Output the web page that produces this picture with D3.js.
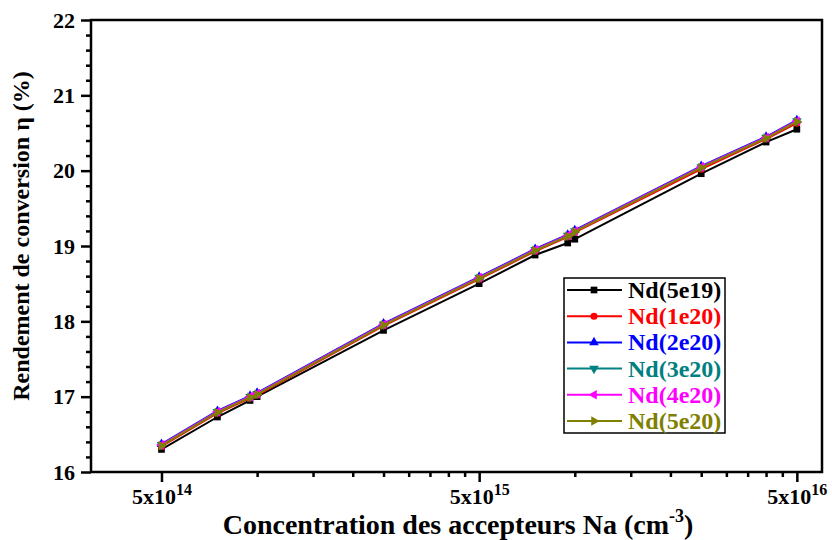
<!doctype html>
<html lang="fr">
<head>
  <meta charset="utf-8">
  <title>Rendement de conversion</title>
  <style>
body { margin: 0; background: #fff; }
.axis path { display: none; }
.axis line { stroke: #000; stroke-width: 2.5; }
  </style>
</head>
<body>
  <script src="https://d3js.org/d3.v7.min.js"></script>
  <script>
// acceptor concentration Na (cm-3)
var na = [5e14, 7.5e14, 9.5e14, 1e15, 2.5e15, 5e15, 7.5e15, 9.5e15, 1e16, 2.5e16, 4e16, 5e16];

var names = ["Nd(5e19)", "Nd(1e20)", "Nd(2e20)", "Nd(3e20)", "Nd(4e20)", "Nd(5e20)"];
var nd5e19 = [16.30, 16.73, 16.95, 17.00, 17.88, 18.50, 18.88, 19.04, 19.09, 19.96, 20.38, 20.55];
var nd1e20 = [16.34, 16.78, 16.98, 17.02, 17.94, 18.56, 18.93, 19.12, 19.18, 20.02, 20.42, 20.63];
var nd2e20 = [16.37, 16.81, 17.01, 17.05, 17.97, 18.59, 18.96, 19.15, 19.21, 20.06, 20.45, 20.67];
var nd3e20 = [16.36, 16.80, 17.00, 17.04, 17.96, 18.58, 18.95, 19.14, 19.20, 20.05, 20.44, 20.66];
var nd4e20 = [16.36, 16.80, 17.00, 17.04, 17.96, 18.58, 18.95, 19.14, 19.20, 20.05, 20.44, 20.66];
var nd5e20 = [16.35, 16.79, 16.99, 17.03, 17.95, 18.57, 18.94, 19.13, 19.19, 20.04, 20.43, 20.65];

var xMajor = [5e14, 5e15, 5e16];
var yMajor = [16, 17, 18, 19, 20, 21, 22];

var series = [nd5e19, nd1e20, nd2e20, nd3e20, nd4e20, nd5e20];
var colors = ["#000000", "#ff0000", "#0000ff", "#008080", "#ff00ff", "#808000"];
var symbols = [d3.symbolSquare, d3.symbolCircle, d3.symbolTriangle, "down", "left", "right"];

var FONT = '"Liberation Serif", "Times New Roman", Times, serif';

var margin = {top: 20, right: 10, bottom: 68, left: 91},
    width = 832 - margin.left - margin.right,
    height = 540 - margin.top - margin.bottom;

var x = d3.scaleLog().domain([3e14, 6e16]).range([0, width]);
var y = d3.scaleLinear().domain([16, 22]).range([height, 0]);

var svg = d3.select("body").append("svg")
    .attr("width", 832)
    .attr("height", 540)
    .style("font-family", FONT)
  .append("g")
    .attr("transform", "translate(" + margin.left + "," + margin.top + ")");

// minor ticks: 5e14 * k, k = 2..9, between the majors
var xMinor = [];
[5e14, 5e15].forEach(function(b) {
  for (var k = 2; k <= 9; k++) xMinor.push(b * k);
});
var yMinor = d3.range(16, 22.001, 0.2).filter(function(v) {
  return Math.abs(v - Math.round(v)) > 0.01;
});

function txt(sel, size) {
  return sel.style("font-family", FONT).style("font-weight", "bold").attr("font-size", size);
}

svg.append("g").attr("class", "axis")
    .attr("transform", "translate(0," + height + ")")
    .call(d3.axisBottom(x).tickValues(xMinor).tickSize(5).tickFormat(""));
var xa = svg.append("g").attr("class", "axis")
    .attr("transform", "translate(0," + height + ")")
    .call(d3.axisBottom(x).tickValues(xMajor).tickSize(10).tickPadding(6).tickFormat(""));
xa.selectAll(".tick text").each(function(d) {
  var e = Math.round(Math.log10(d / 5));
  var t = txt(d3.select(this), 22).attr("fill", "#000");
  t.append("tspan").text("5x10");
  t.append("tspan").attr("dy", -9).attr("font-size", 16).text(e);
});

svg.append("g").attr("class", "axis")
    .call(d3.axisLeft(y).tickValues(yMinor).tickSize(5).tickFormat(""));
txt(svg.append("g").attr("class", "axis")
    .call(d3.axisLeft(y).tickValues(yMajor).tickSize(10).tickPadding(6).tickFormat(d3.format("d")))
  .selectAll("text"), 22).attr("fill", "#000");

// frame
svg.append("rect")
    .attr("width", width).attr("height", height)
    .attr("fill", "none").attr("stroke", "#000").attr("stroke-width", 2.5);

var line = d3.line()
    .x(function(d, i) { return x(na[i]); })
    .y(function(d) { return y(d); });

function marker(sel, s, c) {
  if (s === "down" || s === "left" || s === "right") {
    var rot = {down: 180, left: -90, right: 90}[s];
    sel.append("path").attr("d", d3.symbol(d3.symbolTriangle, 40)())
        .attr("transform", "rotate(" + rot + ")").attr("fill", c);
  } else {
    sel.append("path").attr("d", d3.symbol(s, s === d3.symbolSquare ? 45 : 40)()).attr("fill", c);
  }
}

series.forEach(function(vals, si) {
  svg.append("path")
      .datum(vals)
      .attr("fill", "none")
      .attr("stroke", colors[si])
      .attr("stroke-width", 2)
      .attr("d", line);
  svg.append("g").selectAll("g")
      .data(vals)
      .enter().append("g")
      .attr("transform", function(d, i) { return "translate(" + x(na[i]) + "," + y(d) + ")"; })
      .each(function() { marker(d3.select(this), symbols[si], colors[si]); });
});

// legend
var lg = svg.append("g").attr("transform", "translate(" + (564 - margin.left) + "," + (278 - margin.top) + ")");
lg.append("rect").attr("width", 161).attr("height", 155)
    .attr("fill", "#fff").attr("stroke", "#000").attr("stroke-width", 1.5);
names.forEach(function(n, i) {
  var row = lg.append("g").attr("transform", "translate(0," + (12 + i * 26.2) + ")");
  row.append("line").attr("x1", 3).attr("x2", 58).attr("stroke", colors[i]).attr("stroke-width", 2);
  var m = row.append("g").attr("transform", "translate(30,0)");
  marker(m, symbols[i], colors[i]);
  txt(row.append("text"), 24).attr("x", 64).attr("y", 8)
      .attr("fill", colors[i]).text(n);
});

// axis titles
txt(svg.append("text"), 28)
    .attr("x", 458 - margin.left).attr("y", 534 - margin.top)
    .attr("text-anchor", "middle")
    .call(function(t) {
      t.append("tspan").text("Concentration des accepteurs Na (cm");
      t.append("tspan").attr("dy", -12).attr("font-size", 18).text("-3");
      t.append("tspan").attr("dy", 12).text(")");
    });
txt(svg.append("text"), 24)
    .attr("transform", "translate(-62," + (height / 2 - 10) + ") rotate(-90)")
    .attr("text-anchor", "middle")
    .text("Rendement de conversion \u03b7 (%)");
  </script>
</body>
</html>
